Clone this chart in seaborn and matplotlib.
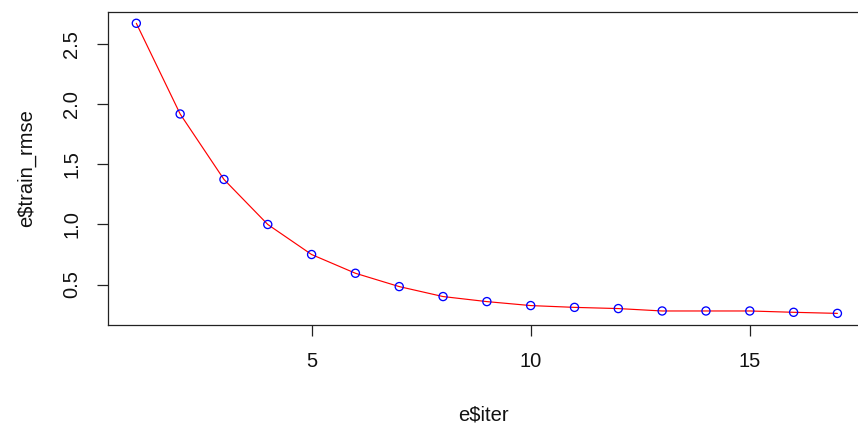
import matplotlib
matplotlib.use("Agg")
import matplotlib.pyplot as plt
import seaborn as sns
import pandas as pd

# Training RMSE per boosting iteration
iterations = list(range(1, 18))
train_rmse = [2.675, 1.92, 1.375, 1.0, 0.75, 0.594, 0.483, 0.40, 0.358,
              0.325, 0.31, 0.30, 0.28, 0.28, 0.28, 0.269, 0.26]
x_ticks = [5, 10, 15]
y_ticks = [0.5, 1.0, 1.5, 2.0, 2.5]

df = pd.DataFrame({"iter": iterations, "train_rmse": train_rmse})

sns.set_style("white")
plt.rcParams["font.family"] = ["Liberation Sans", "DejaVu Sans"]

fig = plt.figure(figsize=(8.58, 4.28), dpi=100)
ax = fig.add_axes([0.1262, 0.2407, 0.8825, 0.732])

sns.lineplot(data=df, x="iter", y="train_rmse", ax=ax, color="#FF0000",
             linewidth=0.85, zorder=2)
sns.scatterplot(data=df, x="iter", y="train_rmse", ax=ax, marker="o", s=34,
                facecolor="none", edgecolor="#0000FF", linewidth=0.95, zorder=3)
for coll in ax.collections:
    coll.set_facecolor("none")
    coll.set_edgecolor("#0000FF")

# Axis ranges padded 4% like base graphics
xr = max(iterations) - min(iterations)
yr = max(train_rmse) - min(train_rmse)
ax.set_xlim(min(iterations) - 0.04 * xr, max(iterations) + 0.04 * xr)
ax.set_ylim(min(train_rmse) - 0.04 * yr, max(train_rmse) + 0.04 * yr)

ax.set_xticks(x_ticks)
ax.set_xticklabels([str(t) for t in x_ticks])
ax.set_yticks(y_ticks)
ax.set_yticklabels([f"{t:.1f}" for t in y_ticks], rotation=90, va="center")

ax.tick_params(axis="both", which="major", direction="out", length=8,
               width=0.9, color="#222222", labelsize=14.5, pad=11.5,
               labelcolor="#111111")
ax.tick_params(bottom=True, left=True, top=False, right=False)

for side in ["left", "bottom", "top", "right"]:
    ax.spines[side].set_visible(True)
    ax.spines[side].set_color("#222222")
    ax.spines[side].set_linewidth(0.9)

ax.set_xlabel("e$iter", fontsize=14.5, color="#111111")
ax.set_ylabel("e$train_rmse", fontsize=14.5, color="#111111")
ax.xaxis.set_label_coords(0.495 - 0.0, -0.287)
ax.xaxis.label.set_va("center")
ax.yaxis.set_label_coords(-0.1074, 0.5)
ax.yaxis.label.set_va("center")

fig.savefig("out.png", dpi=100)
